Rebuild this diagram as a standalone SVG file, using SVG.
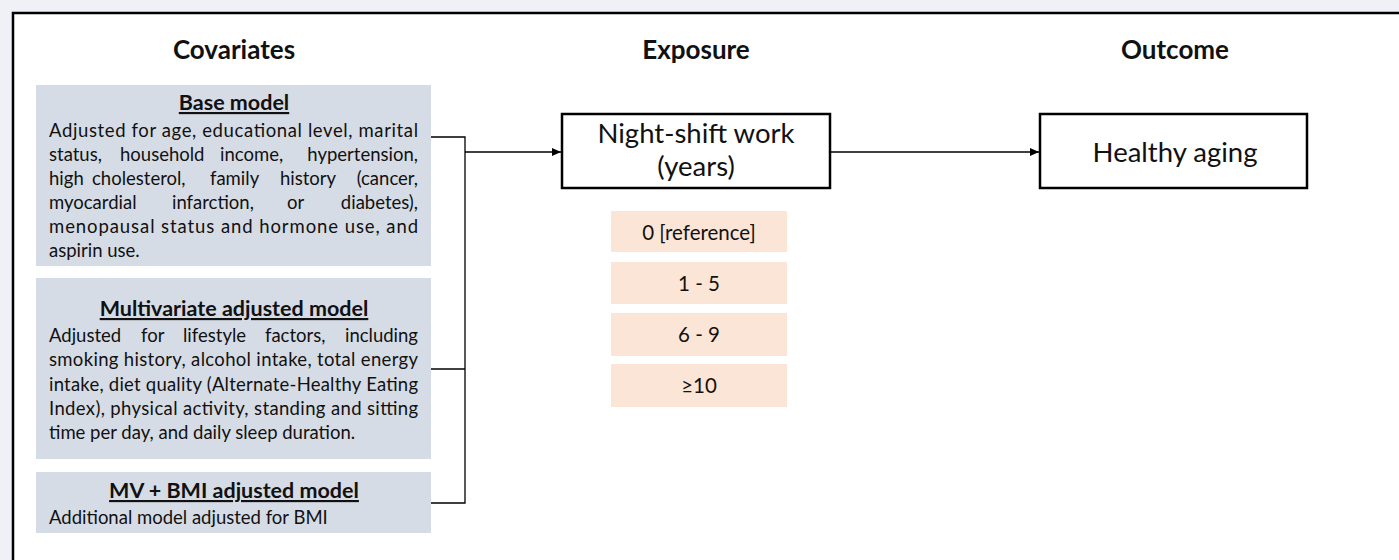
<svg xmlns="http://www.w3.org/2000/svg" width="1399" height="560" viewBox="0 0 1399 560">
<defs>
<marker id="arr" markerWidth="9" markerHeight="8" refX="9" refY="4" orient="auto" markerUnits="userSpaceOnUse">
<path d="M0,0 L9,4 L0,8 z" fill="#000"/>
</marker>
<style>
.t{font-family:Lato,"Open Sans","Liberation Sans",sans-serif;fill:#111;}
.h{font-size:26px;font-weight:bold;text-anchor:middle;}
.mt{font-size:21.5px;font-weight:bold;text-anchor:middle;text-decoration:underline;}
.b{font-size:18.5px;}
.o{font-size:20.5px;text-anchor:middle;}
.e{text-anchor:end;}
.big{font-size:27.5px;text-anchor:middle;}
.cov{fill:#d6dce5;}
.exp{fill:#fbe5d6;}
.box{fill:#fff;stroke:#000;stroke-width:2.5;}
.ln{fill:none;stroke:#000;stroke-width:1.3;}
</style>
</defs>
<rect x="0" y="0" width="1399" height="560" fill="#eff1f6"/>
<rect x="13" y="13" width="1400" height="560" fill="#fff" stroke="#000" stroke-width="2.5"/>

<text class="t h" x="234" y="59">Covariates</text>
<text class="t h" x="696" y="59">Exposure</text>
<text class="t h" x="1175" y="59">Outcome</text>

<g id="base-model">
<rect class="cov" x="36" y="85" width="395" height="181"/>
<text class="t mt" x="234" y="110">Base model</text>
<text class="t b" x="49" y="137" textLength="369" lengthAdjust="spacing">Adjusted for age, educational level, marital</text>
<text class="t b" y="161"><tspan x="49">status,</tspan><tspan x="120">household</tspan><tspan x="220">income,</tspan><tspan class="e" x="418">hypertension,</tspan></text>
<text class="t b" y="185"><tspan x="49">high</tspan><tspan x="92">cholesterol,</tspan><tspan x="210">family</tspan><tspan x="280">history</tspan><tspan class="e" x="418">(cancer,</tspan></text>
<text class="t b" y="209"><tspan x="49">myocardial</tspan><tspan x="172">infarction,</tspan><tspan x="287">or</tspan><tspan class="e" x="418">diabetes),</tspan></text>
<text class="t b" x="49" y="233" textLength="369" lengthAdjust="spacing">menopausal status and hormone use, and</text>
<text class="t b" x="49" y="257">aspirin use.</text>
</g>

<g id="multivariate-model">
<rect class="cov" x="36" y="278" width="395" height="181"/>
<text class="t mt" x="234" y="316">Multivariate adjusted model</text>
<text class="t b" y="342"><tspan x="49">Adjusted</tspan><tspan x="141">for</tspan><tspan x="183">lifestyle</tspan><tspan x="265">factors,</tspan><tspan class="e" x="418">including</tspan></text>
<text class="t b" x="49" y="366" textLength="369" lengthAdjust="spacing">smoking history, alcohol intake, total energy</text>
<text class="t b" x="49" y="391" textLength="369" lengthAdjust="spacing">intake, diet quality (Alternate-Healthy Eating</text>
<text class="t b" x="49" y="415" textLength="369" lengthAdjust="spacing">Index), physical activity, standing and sitting</text>
<text class="t b" x="49" y="439">time per day, and daily sleep duration.</text>
</g>

<g id="mv-bmi-model">
<rect class="cov" x="36" y="472" width="395" height="61"/>
<text class="t mt" x="234" y="498">MV + BMI adjusted model</text>
<text class="t b" x="49" y="524">Additional model adjusted for BMI</text>
</g>

<g id="night-shift">
<rect class="box" x="562" y="114" width="268" height="74"/>
<text class="t big" x="696" y="143">Night-shift work</text>
<text class="t big" x="696" y="176">(years)</text>
</g>

<g id="categories">
<rect class="exp" x="611" y="211" width="176" height="41"/>
<text class="t o" x="699" y="240">0 [reference]</text>
<rect class="exp" x="611" y="262" width="176" height="42"/>
<text class="t o" x="699" y="291">1 - 5</text>
<rect class="exp" x="611" y="313" width="176" height="43"/>
<text class="t o" x="699" y="342">6 - 9</text>
<rect class="exp" x="611" y="364" width="176" height="43"/>
<text class="t o" x="699" y="393">≥10</text>
</g>

<g id="healthy-aging">
<rect class="box" x="1040" y="114" width="267" height="74"/>
<text class="t big" x="1175" y="162">Healthy aging</text>
</g>

<g id="connectors">
<polyline class="ln" points="431,137 465,137 465,503 431,503"/>
<line class="ln" x1="431" y1="369" x2="465" y2="369"/>
<line class="ln" x1="465" y1="152" x2="561" y2="152" marker-end="url(#arr)"/>
<line class="ln" x1="831" y1="152" x2="1039" y2="152" marker-end="url(#arr)"/>
</g>
</svg>
